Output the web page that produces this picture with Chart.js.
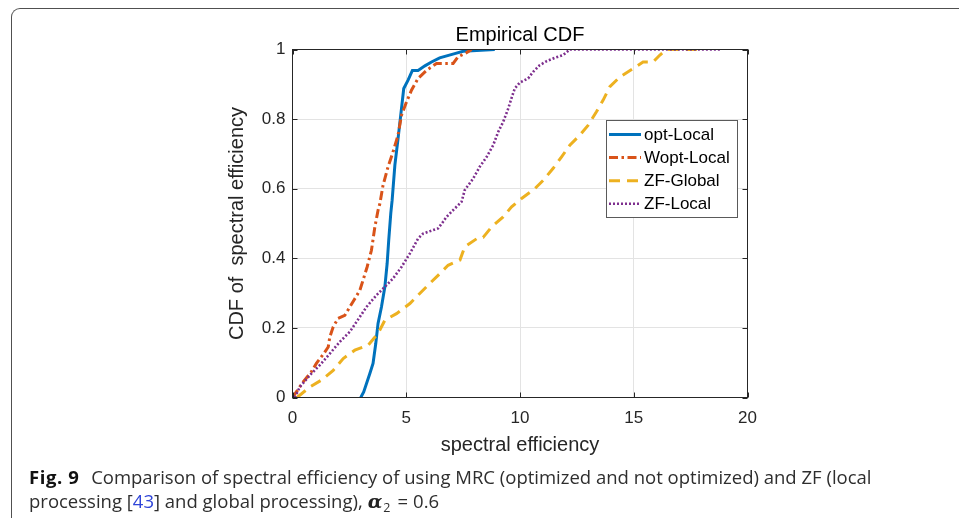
<!DOCTYPE html>
<html>
<head>
<meta charset="utf-8">
<script src="https://cdn.jsdelivr.net/npm/chart.js@4/dist/chart.umd.min.js"></script>
<style>
html,body{margin:0;padding:0;background:#fff;width:959px;height:518px;overflow:hidden;}
#frame{position:absolute;left:11px;top:8px;width:1000px;height:600px;border-top:1.5px solid #505050;border-left:1.5px solid #505050;border-top-left-radius:9px;box-sizing:border-box;}
#wrap{position:absolute;left:0;top:0;width:959px;height:518px;}
#cap{position:absolute;left:29px;top:465px;font-family:"Open Sans","Noto Sans",sans-serif;font-size:18.5px;line-height:23.5px;color:#2e2e2e;white-space:nowrap;letter-spacing:0;}
#cap b.fig{color:#111;font-weight:700;letter-spacing:0.6px;margin-right:2px;}
#cap .ref{color:#2f45d8;}
#cap .m{margin-left:5px;}
#cap .al{font-family:"DejaVu Serif",serif;font-weight:700;font-style:italic;font-size:19px;color:#222;}
#cap sub{font-size:12.5px;vertical-align:-4px;line-height:0;margin-left:1px;}
#cap .eq{margin:0 5px 0 7px;}
</style>
</head>
<body>
<div id="frame"></div>
<div id="wrap"><canvas id="c" width="959" height="518"></canvas></div>
<div id="cap"><b class="fig">Fig. 9</b>&nbsp; Comparison of spectral efficiency of using MRC (optimized and not optimized) and ZF (local<br>processing [<span class="ref">43</span>] and global processing),<span class="m"><span class="al">α</span><sub>2</sub><span class="eq">=</span>0.6</span></div>
<script>
// ---- data ----
const seriesNames = ['opt-Local', 'Wopt-Local', 'ZF-Global', 'ZF-Local'];

const optLocalX = [3.0, 3.13, 3.40, 3.54, 3.66, 3.76, 3.91, 4.06, 4.16, 4.23, 4.32, 4.38, 4.50, 4.64, 4.79, 4.89, 5.08, 5.27, 5.52, 5.82, 6.11, 6.47, 7.13, 7.50, 8.89];
const optLocalY = [0, 0.016, 0.069, 0.098, 0.155, 0.213, 0.26, 0.318, 0.385, 0.452, 0.529, 0.567, 0.668, 0.744, 0.83, 0.888, 0.912, 0.94, 0.94, 0.953, 0.964, 0.976, 0.988, 0.995, 1.0];

const woptLocalX = [0, 0.47, 0.83, 1.05, 1.35, 1.57, 1.64, 1.79, 2.0, 2.30, 2.52, 2.74, 2.96, 3.10, 3.28, 3.47, 3.62, 3.76, 3.84, 3.98, 4.20, 4.42, 4.64, 4.79, 5.01, 5.23, 5.52, 5.89, 6.33, 7.06, 7.28, 7.65, 7.87];
const woptLocalY = [0, 0.045, 0.074, 0.098, 0.124, 0.145, 0.174, 0.203, 0.227, 0.236, 0.26, 0.284, 0.308, 0.337, 0.375, 0.423, 0.49, 0.538, 0.557, 0.61, 0.663, 0.706, 0.754, 0.811, 0.849, 0.883, 0.917, 0.94, 0.96, 0.96, 0.979, 0.991, 1.0];

const zfGlobalX = [0.2, 0.76, 1.27, 1.79, 2.23, 2.74, 3.32, 3.76, 4.06, 4.57, 5.16, 5.52, 5.96, 6.40, 6.84, 7.36, 7.57, 8.16, 8.38, 8.75, 9.26, 9.63, 10.07, 10.65, 11.02, 11.45, 11.82, 12.19, 12.63, 12.99, 13.36, 13.65, 13.95, 14.39, 14.97, 15.41, 15.85, 16.15, 16.44, 17.98];
const zfGlobalY = [0, 0.03, 0.05, 0.078, 0.112, 0.136, 0.15, 0.184, 0.222, 0.241, 0.27, 0.294, 0.323, 0.351, 0.38, 0.395, 0.433, 0.459, 0.46, 0.49, 0.519, 0.548, 0.572, 0.60, 0.624, 0.658, 0.691, 0.725, 0.754, 0.782, 0.821, 0.854, 0.893, 0.921, 0.945, 0.964, 0.964, 0.984, 1.0, 1.0];

const zfLocalX = [0.1, 0.32, 0.76, 1.20, 1.64, 2.08, 2.52, 2.81, 3.25, 3.69, 4.06, 4.42, 4.79, 5.16, 5.52, 5.74, 6.40, 6.62, 6.77, 7.13, 7.43, 7.57, 7.94, 8.23, 8.53, 8.82, 9.04, 9.26, 9.48, 9.67, 9.77, 9.99, 10.36, 10.58, 10.87, 11.16, 11.53, 11.90, 12.19, 18.86];
const zfLocalY = [0, 0.03, 0.064, 0.093, 0.126, 0.16, 0.189, 0.217, 0.26, 0.294, 0.318, 0.342, 0.375, 0.414, 0.457, 0.471, 0.486, 0.505, 0.519, 0.543, 0.562, 0.596, 0.629, 0.663, 0.691, 0.725, 0.763, 0.792, 0.83, 0.869, 0.888, 0.905, 0.917, 0.936, 0.955, 0.966, 0.976, 0.984, 1.0, 1.0];

const xTicks = [0, 5, 10, 15, 20];
const xTickLabels = ['0', '5', '10', '15', '20'];
const yTicks = [0, 0.2, 0.4, 0.6, 0.8, 1];
const yTickLabels = ['0', '0.2', '0.4', '0.6', '0.8', '1'];

const chartTitle = 'Empirical CDF';
const xTitle = 'spectral efficiency';
const yTitle = 'CDF of  spectral efficiency';

// ---- styles ----
const FONT = '"Liberation Sans", Arial, Helvetica, sans-serif';
const AXC = '#262626';
const styles = [
  {color: '#0072BD', dash: [], width: 3},
  {color: '#D95319', dash: [9, 3.5, 2.5, 3.5], width: 3},
  {color: '#EDB120', dash: [11, 7], width: 3},
  {color: '#7E2F8E', dash: [2, 2], width: 2.6}
];
const xs = [optLocalX, woptLocalX, zfGlobalX, zfLocalX];
const ys = [optLocalY, woptLocalY, zfGlobalY, zfLocalY];

const datasets = seriesNames.map((name, k) => ({
  label: name,
  data: xs[k].map((x, i) => ({x: x, y: ys[k][i]})),
  borderColor: styles[k].color,
  backgroundColor: styles[k].color,
  borderDash: styles[k].dash,
  borderWidth: styles[k].width,
  borderCapStyle: 'butt',
  borderJoinStyle: 'miter',
  pointRadius: 0,
  fill: false,
  tension: 0,
  clip: 0,
  order: 3 - k
}));

const boxPlugin = {
  id: 'boxTicks',
  afterDatasetsDraw(chart) {
    const {ctx, chartArea: a, scales} = chart;
    ctx.save();
    ctx.strokeStyle = AXC;
    ctx.lineWidth = 1;
    ctx.strokeRect(a.left, a.top, a.right - a.left, a.bottom - a.top);
    const L = 5;
    ctx.beginPath();
    scales.x.ticks.forEach(t => {
      const p = Math.round(scales.x.getPixelForValue(t.value)) + 0.5;
      ctx.moveTo(p, a.bottom); ctx.lineTo(p, a.bottom - L);
      ctx.moveTo(p, a.top); ctx.lineTo(p, a.top + L);
    });
    scales.y.ticks.forEach(t => {
      const p = Math.round(scales.y.getPixelForValue(t.value)) + 0.5;
      ctx.moveTo(a.left, p); ctx.lineTo(a.left + L, p);
      ctx.moveTo(a.right, p); ctx.lineTo(a.right - L, p);
    });
    ctx.stroke();
    ctx.restore();
  },
  afterDraw(chart) {
    // legend box inside the axes (north-east)
    const {ctx} = chart;
    const bx = 606.5, by = 120.5, bw = 131, bh = 97;
    ctx.save();
    ctx.fillStyle = '#fff';
    ctx.fillRect(bx, by, bw, bh);
    ctx.strokeStyle = '#5a5a5a';
    ctx.lineWidth = 1;
    ctx.strokeRect(bx, by, bw, bh);
    ctx.font = '17px ' + FONT;
    ctx.textBaseline = 'middle';
    ctx.fillStyle = '#000';
    chart.data.datasets.forEach((ds, i) => {
      const y = 134.5 + i * 23.1;
      ctx.beginPath();
      ctx.strokeStyle = ds.borderColor;
      ctx.lineWidth = ds.borderWidth;
      ctx.setLineDash(ds.borderDash);
      ctx.lineCap = 'butt';
      ctx.moveTo(609, y); ctx.lineTo(641, y);
      ctx.stroke();
      ctx.setLineDash([]);
      ctx.fillText(ds.label, 644, y + 1);
    });
    ctx.restore();
  }
};

new Chart(document.getElementById('c'), {
  type: 'line',
  data: {datasets: datasets},
  options: {
    responsive: false,
    animation: false,
    devicePixelRatio: 1,
    layout: {padding: {left: 213, right: 211.5, top: 0, bottom: 63}},
    plugins: {
      legend: {display: false},
      tooltip: {enabled: false},
      title: {
        display: true, text: chartTitle, fullSize: false, color: '#000',
        font: {family: FONT, size: 20, weight: 'normal'},
        padding: {top: 23, bottom: 2.5}
      }
    },
    scales: {
      x: {
        type: 'linear', min: 0, max: 20,
        afterBuildTicks: s => { s.ticks = xTicks.map(v => ({value: v})); },
        afterFit: s => { s.height = 57.5; },
        ticks: {
          callback: (v, i) => xTickLabels[i],
          color: AXC, font: {family: FONT, size: 17}, padding: 10.5,
          maxRotation: 0, autoSkip: false
        },
        grid: {color: '#e3e3e3', lineWidth: 1, drawTicks: false},
        border: {display: false},
        title: {display: true, text: xTitle, color: AXC, font: {family: FONT, size: 20}, padding: {top: 0, bottom: -2}}
      },
      y: {
        type: 'linear', min: 0, max: 1,
        afterBuildTicks: s => { s.ticks = yTicks.map(v => ({value: v})); },
        afterFit: s => { s.width = 79.5; },
        ticks: {
          callback: (v, i) => yTickLabels[i],
          color: AXC, font: {family: FONT, size: 17}, padding: 7, autoSkip: false
        },
        grid: {color: '#e3e3e3', lineWidth: 1, drawTicks: false},
        border: {display: false},
        title: {display: true, text: yTitle, color: AXC, font: {family: FONT, size: 20}, padding: {top: 12, bottom: 0}}
      }
    }
  },
  plugins: [boxPlugin]
});
</script>
</body>
</html>
